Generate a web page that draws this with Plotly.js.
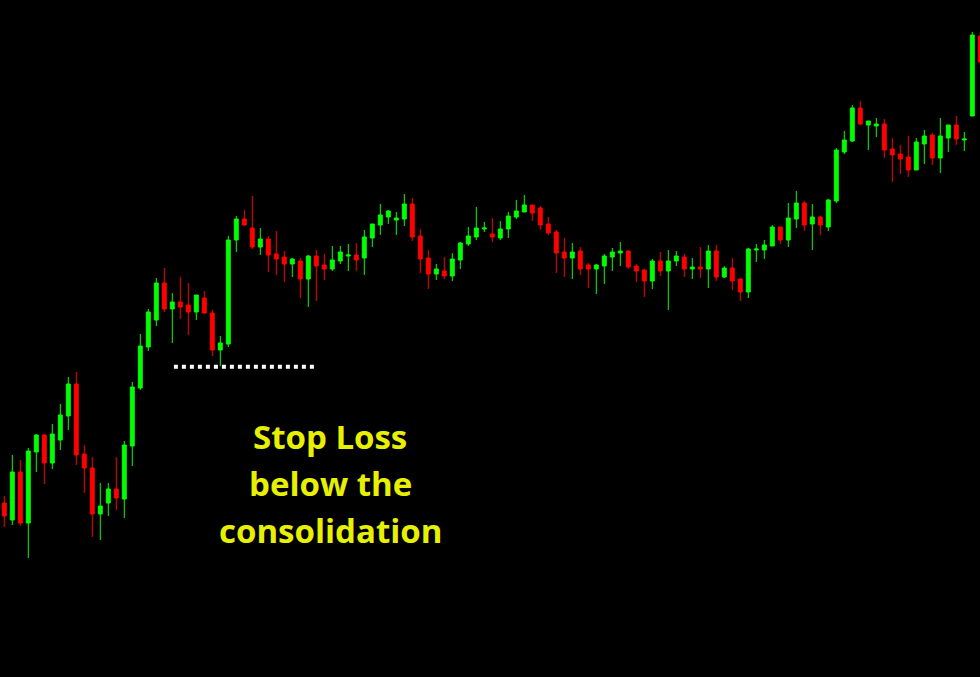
<!DOCTYPE html>
<html>
<head>
<meta charset="utf-8">
<script src="https://cdn.plot.ly/plotly-3.0.1.min.js"></script>
<style>
html,body{margin:0;padding:0;background:#000;overflow:hidden;}
#chart{width:980px;height:677px;}
</style>
</head>
<body>
<div id="chart"></div>
<script>
// Candle OHLC values (arbitrary price units)
const opens = [174,157,205,154,225,242,214,237,261,293,223,209,163,174,188,178,231,289,330,357,
  394,368,375,372,365,379,364,327,333,437,458,449,430,438,423,420,413,416,398,421,
  412,408,416,421,422,419,439,452,460,457,458,473,441,419,403,406,401,417,433,440,
  448,443,439,448,460,465,472,469,453,445,425,419,426,412,408,411,420,424,426,411,
  407,396,416,406,416,420,408,410,408,426,400,409,398,385,427,427,431,450,437,458,
  474,453,460,450,476,525,536,569,552,551,553,528,523,520,507,533,542,519,539,552,
  537,561,641];
const highs = [181,222,217,229,243,243,253,273,300,305,232,220,194,194,220,236,295,343,368,399,
  409,384,400,394,382,386,367,341,441,461,467,481,449,441,446,426,419,419,422,427,
  423,431,431,433,434,447,453,473,467,465,483,479,448,427,413,420,424,435,450,470,
  455,459,456,465,477,482,472,471,460,447,439,434,430,414,413,423,429,435,427,413,
  408,418,425,427,426,423,419,430,432,432,411,419,399,429,433,437,452,450,474,486,
  476,473,461,478,529,546,572,576,556,559,558,539,532,541,539,547,544,559,552,561,
  545,645,644];
const lows = [150,152,151,119,205,193,208,227,247,212,184,140,137,161,167,159,211,287,326,351,
  365,334,358,342,357,363,321,311,330,425,451,428,422,405,402,395,400,379,370,376,
  397,406,413,406,406,402,430,442,453,442,451,436,404,388,397,398,396,408,431,437,
  445,435,437,439,458,465,456,447,442,404,400,398,402,389,383,393,406,411,408,395,
  380,388,401,367,411,400,398,399,389,396,399,387,376,379,415,418,431,433,430,449,
  446,427,442,446,474,523,535,552,527,540,519,495,503,500,507,513,512,504,525,532,
  526,561,612];
const closes = [161,205,154,226,242,214,243,262,293,222,209,163,171,188,179,232,290,331,365,394,
  368,375,370,365,382,364,327,334,437,458,452,430,438,422,418,413,418,398,421,411,
  408,417,425,422,417,440,453,462,466,459,473,440,418,403,408,401,418,434,441,449,
  449,440,448,461,466,472,464,452,444,424,419,425,408,408,412,421,425,426,410,406,
  396,416,406,416,421,408,410,408,426,400,409,396,385,428,428,432,450,437,459,474,
  452,460,452,477,527,537,569,553,556,553,527,522,518,507,535,541,519,541,552,538,
  538,642,615];
const idx = opens.map((_, i) => i);

// Stop loss marker level and its span (candle indices)
const stopLevel = [310.3];
const stopSpan = [21.2, 38.7];
const labelLines = ["Stop Loss", "below the", "consolidation"];

const trace = {
  type: 'candlestick',
  x: idx, open: opens, high: highs, low: lows, close: closes,
  increasing: {line: {color: '#00ff00', width: 1}, fillcolor: '#00ff00'},
  decreasing: {line: {color: '#ff0000', width: 1}, fillcolor: '#ff0000'},
  whiskerwidth: 0,
  hoverinfo: 'skip'
};

const labelY = [436, 483, 530];
const annotations = labelLines.map((t, i) => ({
  text: t, xref: 'paper', yref: 'paper',
  x: 330/980, y: 1 - labelY[i]/677, xanchor: 'center', yanchor: 'middle',
  showarrow: false,
  font: {family: 'Open Sans', size: 33, color: '#e6f000', weight: 700}
}));

const layout = {
  width: 980, height: 677,
  margin: {l: 0, r: 0, t: 0, b: 0, pad: 0},
  paper_bgcolor: '#000', plot_bgcolor: '#000',
  showlegend: false,
  xaxis: {visible: false, range: [-0.5375, 121.9625], rangeslider: {visible: false}, fixedrange: true},
  yaxis: {visible: false, range: [0, 677], fixedrange: true},
  shapes: [{
    type: 'line', xref: 'x', yref: 'y',
    x0: stopSpan[0], x1: stopSpan[1], y0: stopLevel[0], y1: stopLevel[0],
    line: {color: '#ffffff', width: 4, dash: '4px,4px'}
  }],
  annotations: annotations
};

Plotly.newPlot('chart', [trace], layout, {displayModeBar: false, staticPlot: true});
</script>
</body>
</html>
